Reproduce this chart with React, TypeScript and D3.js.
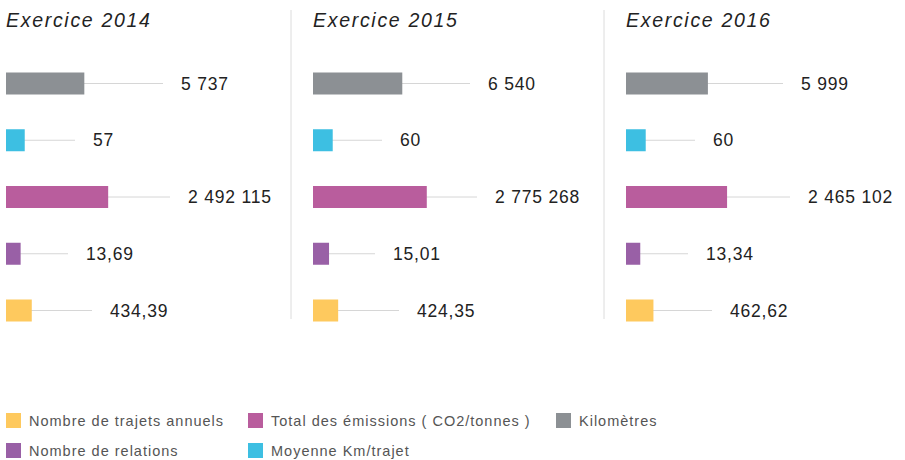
import React from "react";
import * as d3 from "d3";

const years = ["Exercice 2014", "Exercice 2015", "Exercice 2016"];
const metrics = ["km", "moy", "co2", "rel", "trajets"];
const kilometres = [5737, 6540, 5999];
const moyenneKm = [57, 60, 60];
const emissions = [2492115, 2775268, 2465102];
const relations = [13.69, 15.01, 13.34];
const trajets = [434.39, 424.35, 462.62];

const legendRow1 = [
  { key: "trajets", label: "Nombre de trajets annuels" },
  { key: "co2", label: "Total des émissions ( CO2/tonnes )" },
  { key: "km", label: "Kilomètres" },
];
const legendRow2 = [
  { key: "rel", label: "Nombre de relations" },
  { key: "moy", label: "Moyenne Km/trajet" },
];

const colors: Record<string, string> = {
  km: "#8c9094",
  moy: "#3dbfe2",
  co2: "#b95d9d",
  rel: "#9960a6",
  trajets: "#fec95e",
};

// track length and scale max per metric
const tracks: Record<string, { len: number; max: number }> = {
  km: { len: 157, max: 11500 },
  moy: { len: 69, max: 210 },
  co2: { len: 164, max: 4000000 },
  rel: { len: 62, max: 58 },
  trajets: { len: 86, max: 1450 },
};

const seriesValues: Record<string, number[]> = {
  km: kilometres,
  moy: moyenneKm,
  co2: emissions,
  rel: relations,
  trajets: trajets,
};

const fmtInt = (v: number) => d3.format(",")(v).replace(/,/g, " ");
const fmtDec = (v: number) => d3.format(".2f")(v).replace(".", ",");
const formatValue = (key: string, v: number) =>
  key === "rel" || key === "trajets" ? fmtDec(v) : fmtInt(v);

export default function App() {
  const width = 905;
  const height = 460;
  const font = "'Liberation Sans', Arial, sans-serif";

  const panelStarts = [6, 313, 626];
  const rowY = d3.scalePoint().domain(metrics).range([83.5, 310.5]);
  const barH = 22;

  return (
    <svg
      width={width}
      height={height}
      style={{ position: "absolute", left: 0, top: 0, background: "#fff" }}
      fontFamily={font}
    >
      {[291, 604].map((x) => (
        <line key={x} x1={x} x2={x} y1={10} y2={319} stroke="#dcdcdc" strokeWidth={1} />
      ))}
      {years.map((yr, i) => {
        const x0 = panelStarts[i];
        return (
          <g key={yr} transform={`translate(${x0},0)`}>
            <text
              x={0}
              y={27}
              fontSize={19.5}
              fontStyle="italic"
              letterSpacing={1.7}
              fill="#222"
            >
              {yr}
            </text>
            {metrics.map((m) => {
              const t = tracks[m];
              const sx = d3.scaleLinear().domain([0, t.max]).range([0, t.len]);
              const v = seriesValues[m][i];
              const cy = rowY(m)!;
              return (
                <g key={m}>
                  <line
                    x1={0}
                    x2={sx(t.max)}
                    y1={cy}
                    y2={cy}
                    stroke="#d6d6d6"
                    strokeWidth={1}
                  />
                  <rect
                    x={0}
                    y={cy - barH / 2}
                    width={sx(v)}
                    height={barH}
                    fill={colors[m]}
                  />
                  <text
                    x={sx(t.max) + 18}
                    y={cy}
                    dy="0.35em"
                    fontSize={17.5}
                    letterSpacing={0.8}
                    fill="#222"
                  >
                    {formatValue(m, v)}
                  </text>
                </g>
              );
            })}
          </g>
        );
      })}
      {[legendRow1, legendRow2].map((row, r) => {
        const xs = [6, 248, 556];
        const y = r === 0 ? 420.5 : 450.5;
        return row.map((item, j) => (
          <g key={item.key} transform={`translate(${xs[j]},${y})`}>
            <rect x={0} y={-7.5} width={15} height={15} fill={colors[item.key]} />
            <text
              x={23}
              y={0}
              dy="0.35em"
              fontSize={14.5}
              letterSpacing={1.0}
              fill="#555"
            >
              {item.label}
            </text>
          </g>
        ));
      })}
    </svg>
  );
}
